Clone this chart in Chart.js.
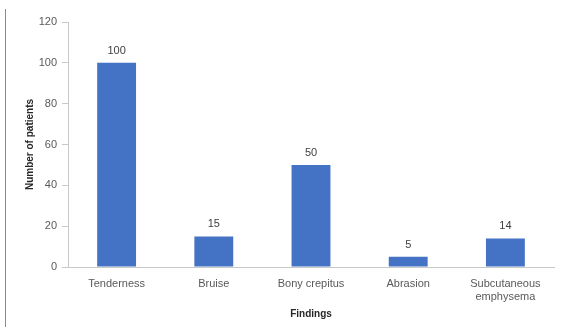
<!DOCTYPE html>
<html>
<head>
<meta charset="utf-8">
<script src="https://cdn.jsdelivr.net/npm/chart.js@4/dist/chart.umd.min.js"></script>
<style>
  html, body { margin: 0; padding: 0; background: #fff; }
  #wrap { position: relative; width: 564px; height: 327px; }
  #frame { position: absolute; left: 5px; top: 9px; width: 0; height: 318px; border-left: 1px solid #8c8c8c; }
  canvas { position: absolute; left: 0; top: 0; }
</style>
</head>
<body>
<div id="wrap">
  <div id="frame"></div>
  <canvas id="c" width="564" height="327"></canvas>
</div>
<script>
const categories = ['Tenderness', 'Bruise', 'Bony crepitus', 'Abrasion', ['Subcutaneous', 'emphysema']];
const patients = [100, 15, 50, 5, 14];
const yTicks = [0, 20, 40, 60, 80, 100, 120];

const FONT = "'Liberation Sans', Arial, sans-serif";
const TEXT = '#595959';
const AXIS = '#c8c8c8';

// Value labels above each bar
const barValues = {
  id: 'barValues',
  afterDatasetsDraw(chart) {
    const ctx = chart.ctx;
    const meta = chart.getDatasetMeta(0);
    ctx.save();
    ctx.font = '11px ' + FONT;
    ctx.fillStyle = '#404040';
    ctx.textAlign = 'center';
    ctx.textBaseline = 'middle';
    meta.data.forEach((bar, i) => {
      ctx.fillText(String(chart.data.datasets[0].data[i]), bar.x, bar.y - 12);
    });
    ctx.restore();
  }
};

new Chart(document.getElementById('c'), {
  type: 'bar',
  data: {
    labels: categories,
    datasets: [{
      data: patients,
      backgroundColor: '#4472C4',
      borderWidth: 0,
      categoryPercentage: 1,
      barPercentage: 0.4
    }]
  },
  options: {
    responsive: false,
    animation: false,
    layout: { padding: { left: 0, right: 10, top: 22, bottom: 0 } },
    plugins: { legend: { display: false }, tooltip: { enabled: false } },
    scales: {
      x: {
        grid: { display: true, drawOnChartArea: false, drawTicks: false },
        border: { color: AXIS, width: 1 },
        ticks: { color: TEXT, font: { family: FONT, size: 11 }, padding: 10, maxRotation: 0, autoSkip: false },
        title: { display: true, text: 'Findings', color: '#262626', font: { family: FONT, size: 10, weight: 'bold' }, padding: { top: 0, bottom: 7 } },
        afterFit(scale) { scale.height = 60; }
      },
      y: {
        min: 0, max: 120,
        afterBuildTicks(scale) { scale.ticks = yTicks.map(v => ({ value: v })); },
        grid: { display: true, drawOnChartArea: false, drawTicks: true, tickLength: 6, color: AXIS },
        border: { color: AXIS, width: 1 },
        ticks: { color: TEXT, font: { family: FONT, size: 11 }, padding: 5 },
        title: { display: true, text: 'Number of patients', color: '#262626', font: { family: FONT, size: 10, weight: 'bold' }, padding: { top: 24, bottom: 0 } },
        afterFit(scale) { scale.width = 68; }
      }
    }
  },
  plugins: [barValues]
});
</script>
</body>
</html>
